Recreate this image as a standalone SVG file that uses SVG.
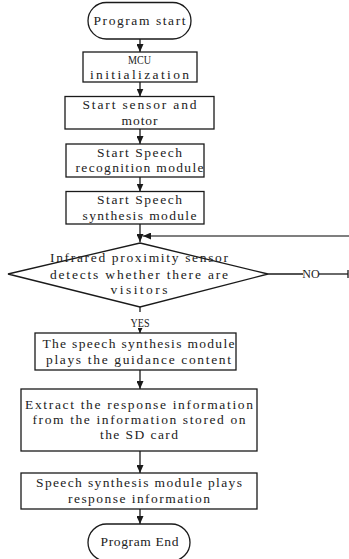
<svg xmlns="http://www.w3.org/2000/svg" width="349" height="559" viewBox="0 0 349 559">
  <style>
    .box { fill: #ffffff; stroke: #1a1a1a; stroke-width: 1.3; }
    .t { font-family: "Liberation Serif", "DejaVu Serif", serif; font-size: 13.5px; fill: #222222; text-anchor: middle; }
    .lbl { font-family: "Liberation Serif", "DejaVu Serif", serif; font-size: 12px; fill: #222222; text-anchor: middle; }
    .ln { fill: none; stroke: #1a1a1a; stroke-width: 1.3; }
    .fb { fill: none; stroke: #555555; stroke-width: 1.3; }
  </style>
  <defs>
    <marker id="ah" markerUnits="userSpaceOnUse" markerWidth="8" markerHeight="7" refX="8" refY="3.5" orient="auto">
      <path d="M0,0 L8,3.5 L0,7 z" fill="#1a1a1a"/>
    </marker>
    <marker id="ahs" markerUnits="userSpaceOnUse" markerWidth="5" markerHeight="5" refX="5" refY="2.5" orient="auto">
      <path d="M0,0 L5,2.5 L0,5 z" fill="#1a1a1a"/>
    </marker>
  </defs>

  <!-- connectors -->
  <g id="connectors">
    <line class="ln" x1="140" y1="39" x2="140" y2="52" marker-end="url(#ah)"/>
    <line class="ln" x1="140" y1="82" x2="140" y2="96.5" marker-end="url(#ah)"/>
    <line class="ln" x1="140" y1="129" x2="140" y2="144" marker-end="url(#ah)"/>
    <line class="ln" x1="140" y1="177" x2="140" y2="191.5" marker-end="url(#ah)"/>
    <line class="ln" x1="140" y1="224" x2="140" y2="242" marker-end="url(#ah)"/>
    <!-- loop back from the NO branch -->
    <line class="fb" x1="349" y1="236" x2="143" y2="236" marker-end="url(#ah)"/>
    <line class="ln" x1="268" y1="274" x2="303" y2="274"/>
    <line class="ln" x1="319" y1="274" x2="348" y2="274"/>
    <line class="ln" x1="348" y1="270" x2="348" y2="278"/>
    <text class="lbl" x="311" y="278">NO</text>
    <!-- YES branch -->
    <line class="ln" x1="140" y1="307" x2="140" y2="312"/>
    <text class="lbl" x="140" y="327" textLength="19" lengthAdjust="spacingAndGlyphs">YES</text>
    <line class="ln" x1="140" y1="329" x2="140" y2="333" marker-end="url(#ahs)"/>
    <line class="ln" x1="140" y1="370" x2="140" y2="389" marker-end="url(#ah)"/>
    <line class="ln" x1="140" y1="451" x2="140" y2="473" marker-end="url(#ah)"/>
    <line class="ln" x1="140" y1="509" x2="140" y2="524" marker-end="url(#ah)"/>
  </g>

  <g id="start">
    <rect class="box" x="88" y="2.5" width="103" height="36.5" rx="18.25"/>
    <text class="t" x="139.5" y="25" textLength="92">Program start</text>
  </g>

  <g id="mcu-init">
    <rect class="box" x="83" y="52" width="114" height="30"/>
    <text class="t" x="139.5" y="64" textLength="23" lengthAdjust="spacingAndGlyphs">MCU</text>
    <text class="t" x="139.5" y="79" textLength="99">initialization</text>
  </g>

  <g id="sensor-motor">
    <rect class="box" x="65" y="96.5" width="149" height="32.5"/>
    <text class="t" x="139.5" y="109" textLength="114">Start sensor and</text>
    <text class="t" x="139.5" y="125" textLength="36">motor</text>
  </g>

  <g id="speech-recognition">
    <rect class="box" x="66" y="144" width="138" height="33"/>
    <text class="t" x="139.5" y="157" textLength="85">Start Speech</text>
    <text class="t" x="139.5" y="172" textLength="128">recognition module</text>
  </g>

  <g id="speech-synthesis">
    <rect class="box" x="66" y="191.5" width="138" height="32.5"/>
    <text class="t" x="139.5" y="204" textLength="85">Start Speech</text>
    <text class="t" x="139.5" y="220" textLength="114">synthesis module</text>
  </g>

  <g id="visitor-check">
    <polygon class="box" points="140,243 268,274 140,307 8,274"/>
    <text class="t" x="139" y="262" textLength="178">Infrared proximity sensor</text>
    <text class="t" x="139" y="279" textLength="178">detects whether there are</text>
    <text class="t" x="139" y="294" textLength="57">visitors</text>
  </g>

  <g id="play-guidance">
    <rect class="box" x="35" y="333" width="201" height="37"/>
    <text class="t" x="138.5" y="348" textLength="192">The speech synthesis module</text>
    <text class="t" x="138.5" y="364" textLength="185">plays the guidance content</text>
  </g>

  <g id="extract-response">
    <rect class="box" x="21" y="389" width="236" height="62"/>
    <text class="t" x="139" y="409" textLength="228">Extract the response information</text>
    <text class="t" x="139" y="424" textLength="213">from the information stored on</text>
    <text class="t" x="139" y="439" textLength="78">the SD card</text>
  </g>

  <g id="play-response">
    <rect class="box" x="21" y="473" width="236" height="36"/>
    <text class="t" x="139" y="487" textLength="206">Speech synthesis module plays</text>
    <text class="t" x="139" y="503" textLength="142">response information</text>
  </g>

  <g id="end">
    <rect class="box" x="88" y="524" width="102" height="37" rx="18.5"/>
    <text class="t" x="139.5" y="546" textLength="78">Program End</text>
  </g>
</svg>
